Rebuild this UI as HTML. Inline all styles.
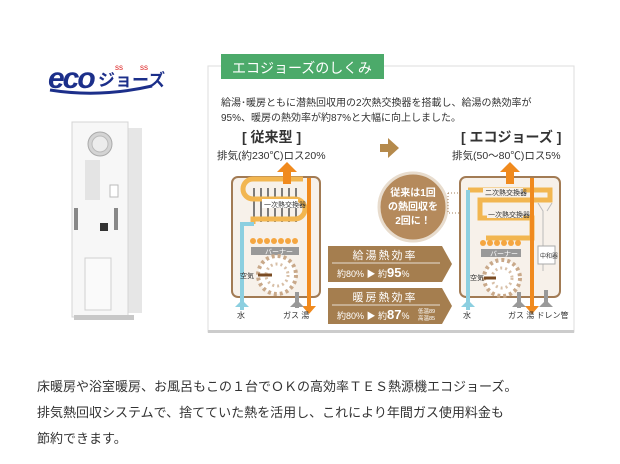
<!DOCTYPE html>
<html><head><meta charset="utf-8"><style>
body{margin:0;background:#fff;width:620px;height:464px;overflow:hidden;font-family:"Liberation Sans","Noto Sans CJK JP",sans-serif}
.t{position:absolute;white-space:nowrap;color:#333}
</style></head><body>
<svg width="620" height="464" style="position:absolute;left:0;top:0" font-family="Liberation Sans, Noto Sans CJK JP, sans-serif">
<!-- logo -->
<text x="48" y="88" font-size="30" font-weight="bold" fill="#1c2f8a" font-style="italic" letter-spacing="-2">eco</text>
<text x="98" y="86" font-size="17" font-weight="bold" fill="#1c2f8a">ジョーズ</text>
<path d="M50 90 Q100 98 152 86" stroke="#1c2f8a" stroke-width="3" fill="none"/>
<text x="115" y="70" font-size="8" fill="#d22">ss</text><text x="140" y="70" font-size="8" fill="#d22">ss</text>
<!-- heater -->
<rect x="126" y="128" width="16" height="185" fill="#e6e6e6"/>
<rect x="72" y="122" width="56" height="195" fill="#f7f7f7" stroke="#d4d4d4"/>
<circle cx="100" cy="144" r="12" fill="#d4d4d4" stroke="#aaa"/>
<circle cx="100" cy="144" r="8" fill="#ececec" stroke="#bbb"/>
<rect x="85" y="160" width="15" height="40" fill="#e4e4e4"/>
<rect x="110" y="185" width="8" height="12" fill="#fff" stroke="#bbb"/>
<rect x="74" y="208" width="4" height="22" fill="#888"/><rect x="114" y="208" width="4" height="22" fill="#888"/>
<rect x="100" y="223" width="8" height="8" fill="#333"/>
<rect x="85" y="258" width="26" height="52" fill="#fafafa" stroke="#d0d0d0"/>
<rect x="74" y="315" width="60" height="5" fill="#c8c8c8"/>
<!-- panel -->
<rect x="208" y="66" width="366" height="266" fill="#fff" stroke="#ddd"/>
<rect x="208" y="330" width="366" height="3" fill="#ccc"/>
<rect x="221" y="54" width="163" height="25" fill="#4caa6a"/>
<text x="232" y="73" font-size="14" fill="#fff">エコジョーズのしくみ</text>
<text x="221" y="106" font-size="10" fill="#333">給湯･暖房ともに潜熱回収用の2次熱交換器を搭載し、給湯の熱効率が</text>
<text x="221" y="121" font-size="10" fill="#333">95%、暖房の熱効率が約87%と大幅に向上しました。</text>
<text x="242" y="142" font-size="14" font-weight="bold" fill="#333">[ 従来型 ]</text>
<text x="217" y="159" font-size="10.5" fill="#333">排気(約230℃)ロス20%</text>
<text x="461" y="142" font-size="14" font-weight="bold" fill="#333">[ エコジョーズ ]</text>
<text x="452" y="159" font-size="10.5" fill="#333">排気(50～80℃)ロス5%</text>
<path d="M380 144h8v-6l11 10-11 10v-6h-8z" fill="#b58a4c"/>
<!-- left unit -->
<rect x="232" y="177" width="88" height="120" rx="6" fill="#f7f1ea" stroke="#a27b54" stroke-width="2"/>
<g stroke="#555" stroke-width="1.5">
<line x1="254" y1="188" x2="254" y2="222"/><line x1="261" y1="188" x2="261" y2="222"/><line x1="268" y1="188" x2="268" y2="222"/><line x1="275" y1="188" x2="275" y2="222"/><line x1="282" y1="188" x2="282" y2="222"/><line x1="289" y1="188" x2="289" y2="222"/><line x1="296" y1="188" x2="296" y2="222"/></g>
<path d="M253 224v-5h42a10 10 0 0 0 0-20h-42a10 10 0 0 1 0-20h50" stroke="#f2b650" stroke-width="5" fill="none"/>
<rect x="262" y="199" width="36" height="9" fill="#fff"/><text x="264" y="207" font-size="7" fill="#333">一次熱交換器</text>
<path d="M242 310v-86h12" stroke="#8ccfe0" stroke-width="4" fill="none"/>
<path d="M309 178v128" stroke="#f08a1e" stroke-width="4" fill="none"/>
<path d="M287 162l-10 10h6v12h8v-12h6z" fill="#f08a1e"/>
<path d="M309 314l-7-8h14z" fill="#f08a1e"/>
<path d="M297 292v16" stroke="#999" stroke-width="4"/><path d="M297 300l-7 7h14z" fill="#999"/>
<path d="M242 300l-7 7h14z" fill="#8ccfe0"/>
<g fill="#f5a640"><circle cx="253" cy="241" r="3"/><circle cx="260" cy="241" r="3"/><circle cx="267" cy="241" r="3"/><circle cx="274" cy="241" r="3"/><circle cx="281" cy="241" r="3"/><circle cx="288" cy="241" r="3"/><circle cx="295" cy="241" r="3"/></g>
<rect x="251" y="247" width="48" height="8" fill="#999"/><text x="265" y="254" font-size="7" fill="#fff">バーナー</text>
<circle cx="277" cy="275" r="19" fill="#fff" stroke="#c9a98a" stroke-width="4" stroke-dasharray="3 3"/>
<circle cx="277" cy="275" r="11" fill="none" stroke="#d8c0a8" stroke-width="3" stroke-dasharray="2 3"/>
<text x="240" y="278" font-size="7" fill="#333">空気</text><path d="M258 275h14" stroke="#7a4b22" stroke-width="3"/>
<text x="237" y="318" font-size="8" fill="#333">水</text><text x="283" y="318" font-size="8" fill="#333">ガス 湯</text>
<!-- circle -->
<circle cx="413" cy="207" r="34" fill="#b58a5c" stroke="#e8dccd" stroke-width="3"/>
<text x="413" y="196" font-size="10" font-weight="bold" fill="#fff" text-anchor="middle">従来は1回</text>
<text x="413" y="210" font-size="10" font-weight="bold" fill="#fff" text-anchor="middle">の熱回収を</text>
<text x="413" y="224" font-size="10" font-weight="bold" fill="#fff" text-anchor="middle">2回に！</text>
<path d="M448 193h25M448 193v20h20" stroke="#a27b54" stroke-dasharray="1 2" fill="none"/>
<!-- banners -->
<path d="M328 246h114l10 18-10 18h-114z" fill="#a57e4f"/>
<line x1="332" y1="263" x2="440" y2="263" stroke="#fff" stroke-width="0.7"/>
<text x="385" y="259" font-size="11" fill="#fff" text-anchor="middle" letter-spacing="2">給湯熱効率</text>
<text x="337" y="277" font-size="9" fill="#fff">約80%  ▶ 約<tspan font-size="13" font-weight="bold">95</tspan>%</text>
<path d="M328 288h114l10 18-10 18h-114z" fill="#a57e4f"/>
<line x1="332" y1="305" x2="440" y2="305" stroke="#fff" stroke-width="0.7"/>
<text x="385" y="301" font-size="11" fill="#fff" text-anchor="middle" letter-spacing="2">暖房熱効率</text>
<text x="337" y="319" font-size="9" fill="#fff">約80%  ▶ 約<tspan font-size="13" font-weight="bold">87</tspan>%</text>
<text x="418" y="313" font-size="5.5" fill="#fff">低温89</text><text x="418" y="320" font-size="5.5" fill="#fff">高温85</text>
<!-- right unit -->
<rect x="460" y="177" width="100" height="120" rx="6" fill="#f7f1ea" stroke="#a27b54" stroke-width="2"/>
<path d="M468 190h82v10h-70v18h52v20h-46" stroke="#f2b650" stroke-width="5" fill="none"/>
<rect x="483" y="188" width="40" height="8" fill="#f7f1ea"/><text x="485" y="195" font-size="7" fill="#333">二次熱交換器</text>
<rect x="487" y="210" width="36" height="8" fill="#f7f1ea"/><text x="488" y="217" font-size="7" fill="#333">一次熱交換器</text>
<path d="M468 310v-120" stroke="#8ccfe0" stroke-width="4" fill="none"/>
<path d="M532 178v128" stroke="#f08a1e" stroke-width="4" fill="none"/>
<path d="M510 162l-10 10h6v12h8v-12h6z" fill="#f08a1e"/>
<path d="M532 314l-7-8h14z" fill="#f08a1e"/>
<path d="M519 292v16" stroke="#999" stroke-width="4"/><path d="M519 300l-7 7h14z" fill="#999"/>
<path d="M546 290v16" stroke="#999" stroke-width="4"/><path d="M546 300l-7 7h14z" fill="#999"/>
<path d="M468 300l-7 7h14z" fill="#8ccfe0"/>
<path d="M538 203l5 8v60M552 203l-5 8" stroke="#bbb" fill="none"/>
<rect x="538" y="246" width="17" height="18" fill="#fff" stroke="#aaa"/><text x="540" y="258" font-size="6" fill="#333">中和器</text>
<g fill="#f5a640"><circle cx="483" cy="243" r="3"/><circle cx="490" cy="243" r="3"/><circle cx="497" cy="243" r="3"/><circle cx="504" cy="243" r="3"/><circle cx="511" cy="243" r="3"/><circle cx="518" cy="243" r="3"/></g>
<rect x="481" y="249" width="40" height="8" fill="#999"/><text x="490" y="256" font-size="7" fill="#fff">バーナー</text>
<circle cx="502" cy="278" r="18" fill="#fff" stroke="#c9a98a" stroke-width="4" stroke-dasharray="3 3"/>
<circle cx="502" cy="278" r="10" fill="none" stroke="#d8c0a8" stroke-width="3" stroke-dasharray="2 3"/>
<text x="470" y="280" font-size="7" fill="#333">空気</text><path d="M484 278h12" stroke="#7a4b22" stroke-width="3"/>
<text x="463" y="318" font-size="8" fill="#333">水</text><text x="508" y="318" font-size="8" fill="#333">ガス 湯 ドレン管</text>
</svg>
<div class="t" style="left:37px;top:376px;font-size:13px">床暖房や浴室暖房、お風呂もこの１台でＯＫの高効率ＴＥＳ熱源機エコジョーズ。</div>
<div class="t" style="left:37px;top:402px;font-size:13px">排気熱回収システムで、捨てていた熱を活用し、これにより年間ガス使用料金も</div>
<div class="t" style="left:37px;top:428px;font-size:13px">節約できます。</div>
</body></html>
